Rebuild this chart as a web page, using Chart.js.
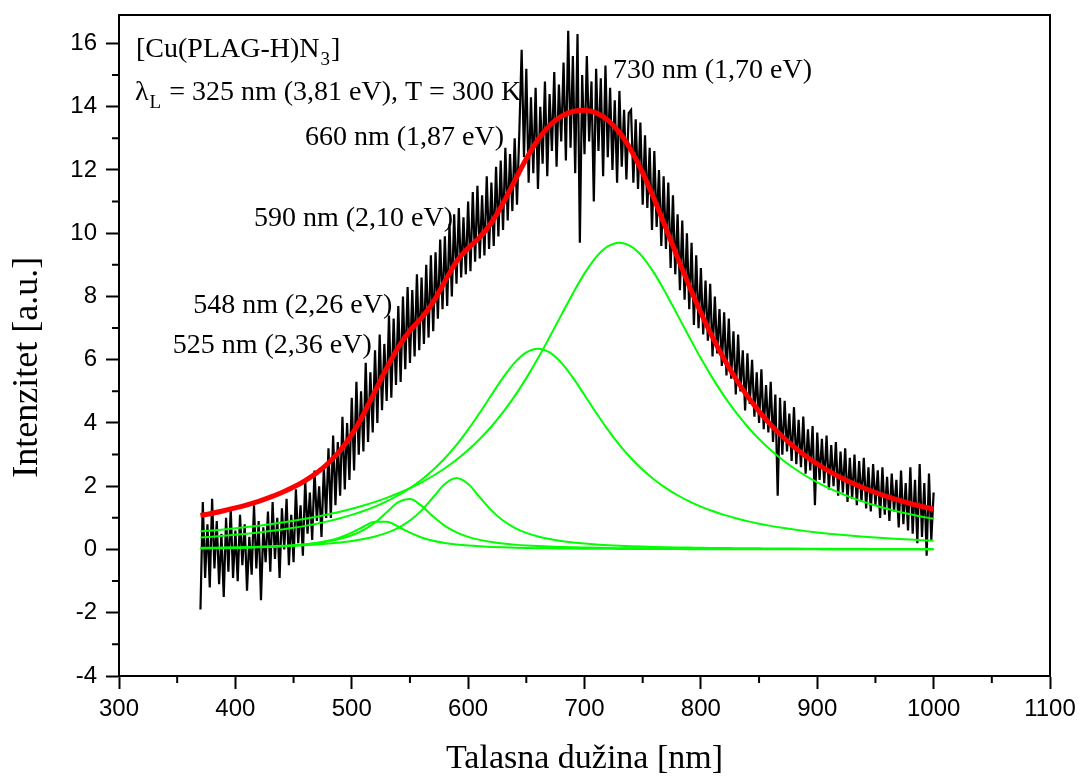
<!DOCTYPE html>
<html>
<head>
<meta charset="utf-8">
<script src="https://cdn.jsdelivr.net/npm/chart.js@4.4.1/dist/chart.umd.min.js"></script>
<style>
	html, body { margin: 0; padding: 0; background: #fff; }
	canvas { display: block; }
</style>
</head>
<body>
<canvas id="chart" width="1080" height="779"></canvas>
<script>
// fitted components, sampled every 10 nm from 370 to 1000 nm
const fitNm = Array.from({ length: 64 }, (_, i) => 370 + 10 * i);

const peak730 = [
	0.571, 0.602, 0.635, 0.672, 0.711, 0.754, 0.801, 0.852, 0.908, 0.970,
	1.038, 1.113, 1.196, 1.288, 1.391, 1.505, 1.634, 1.778, 1.940, 2.123,
	2.332, 2.568, 2.836, 3.143, 3.492, 3.889, 4.340, 4.850, 5.419, 6.044,
	6.717, 7.410, 8.097, 8.731, 9.247, 9.582, 9.700, 9.582, 9.247, 8.731,
	8.097, 7.410, 6.717, 6.044, 5.419, 4.850, 4.340, 3.889, 3.492, 3.143,
	2.836, 2.568, 2.332, 2.123, 1.940, 1.778, 1.634, 1.505, 1.391, 1.288,
	1.196, 1.113, 1.038, 0.970
];
const peak660 = [
	0.378, 0.404, 0.433, 0.464, 0.499, 0.538, 0.581, 0.630, 0.685, 0.747,
	0.817, 0.897, 0.989, 1.094, 1.216, 1.357, 1.522, 1.715, 1.941, 2.207,
	2.520, 2.885, 3.308, 3.790, 4.322, 4.884, 5.433, 5.907, 6.233, 6.350,
	6.233, 5.907, 5.433, 4.884, 4.322, 3.790, 3.308, 2.885, 2.520, 2.207,
	1.941, 1.715, 1.522, 1.357, 1.216, 1.094, 0.989, 0.897, 0.817, 0.747,
	0.685, 0.630, 0.581, 0.538, 0.499, 0.464, 0.433, 0.404, 0.378, 0.355,
	0.334, 0.314, 0.296, 0.280
];
const peak590 = [
	0.050, 0.054, 0.060, 0.066, 0.073, 0.082, 0.092, 0.104, 0.119, 0.137,
	0.159, 0.187, 0.222, 0.268, 0.329, 0.411, 0.525, 0.686, 0.915, 1.238,
	1.653, 2.070, 2.260, 2.070, 1.653, 1.238, 0.915, 0.686, 0.525, 0.411,
	0.329, 0.268, 0.222, 0.187, 0.159, 0.137, 0.119, 0.104, 0.092, 0.082,
	0.073, 0.066, 0.060, 0.054, 0.050, 0.046, 0.042, 0.039, 0.036, 0.033,
	0.031, 0.029, 0.027, 0.025, 0.024, 0.022, 0.021, 0.020, 0.019, 0.018,
	0.017, 0.016, 0.015, 0.015
];
const peak548 = [
	0.044, 0.049, 0.056, 0.063, 0.072, 0.083, 0.097, 0.115, 0.137, 0.167,
	0.206, 0.261, 0.338, 0.449, 0.614, 0.855, 1.176, 1.494, 1.593, 1.379,
	1.040, 0.748, 0.541, 0.400, 0.304, 0.237, 0.189, 0.154, 0.127, 0.107,
	0.091, 0.079, 0.068, 0.060, 0.053, 0.047, 0.042, 0.038, 0.035, 0.031,
	0.029, 0.026, 0.024, 0.022, 0.021, 0.019, 0.018, 0.017, 0.016, 0.015,
	0.014, 0.013, 0.012, 0.012, 0.011, 0.010, 0.010, 0.009, 0.009, 0.009,
	0.008, 0.008, 0.008, 0.007
];
const peak525 = [
	0.033, 0.037, 0.042, 0.049, 0.057, 0.068, 0.082, 0.100, 0.124, 0.158,
	0.206, 0.277, 0.381, 0.531, 0.720, 0.876, 0.876, 0.720, 0.531, 0.381,
	0.277, 0.206, 0.158, 0.124, 0.100, 0.082, 0.068, 0.057, 0.049, 0.042,
	0.037, 0.033, 0.029, 0.026, 0.023, 0.021, 0.019, 0.017, 0.016, 0.014,
	0.013, 0.012, 0.011, 0.011, 0.010, 0.009, 0.009, 0.008, 0.008, 0.007,
	0.007, 0.006, 0.006, 0.006, 0.005, 0.005, 0.005, 0.005, 0.005, 0.004,
	0.004, 0.004, 0.004, 0.004
];
// total fit (red)
const fitSum = [
	1.076, 1.146, 1.226, 1.314, 1.412, 1.525, 1.653, 1.801, 1.973, 2.179,
	2.426, 2.735, 3.126, 3.630, 4.270, 5.004, 5.733, 6.393, 6.920, 7.328,
	7.822, 8.477, 9.103, 9.527, 9.871, 10.330, 10.945, 11.654, 12.353, 12.954,
	13.407, 13.697, 13.849, 13.888, 13.804, 13.577, 13.188, 12.626, 11.910, 11.065,
	10.153, 9.229, 8.334, 7.488, 6.716, 6.018, 5.398, 4.850, 4.369, 3.945,
	3.573, 3.246, 2.958, 2.704, 2.479, 2.279, 2.103, 1.943, 1.802, 1.674,
	1.559, 1.455, 1.361, 1.276
];

// measured spectrum (black), every 2 nm from 370 to 1000 nm
const measured = [
	// 370-398
	-1.9, 1.5, -0.9, 0.8, -1.2, 1.6, -0.6, 0.9, -1.1, 0.5, -1.5, 1.0, -0.7, 1.3, -0.9,
	// 400-448
	0.6, -1.0, 1.1, -0.5, 0.8, -1.3, 0.4, -0.8, 1.4, -0.6, 0.9, -1.6, 0.7, -0.4, 1.2,
	-0.7, 1.5, -0.3, 1.0, -0.9, 1.3, 0.0, 1.6, -0.5, 1.1,
	// 450-478
	-0.4, 1.9, 0.2, 1.4, -0.2, 2.2, 0.5, 1.8, 0.3, 2.5, 0.9, 2.0, 0.4, 2.6, 1.0,
	// 480-498
	3.2, 1.0, 3.6, 1.4, 3.4, 1.7, 4.2, 1.9, 4.0, 2.2,
	// 500-518
	4.8, 2.5, 5.3, 3.0, 5.0, 3.1, 5.9, 3.4, 5.6, 3.7,
	// 520-538
	6.3, 4.0, 6.8, 4.4, 6.5, 4.7, 7.4, 4.8, 7.3, 5.2,
	// 540-558
	7.7, 5.3, 8.0, 5.7, 8.3, 5.9, 8.2, 6.1, 8.7, 6.3,
	// 560-578
	8.6, 6.5, 9.0, 6.7, 9.3, 6.9, 9.4, 7.3, 9.8, 7.6,
	// 580-598
	9.9, 7.7, 10.3, 8.0, 10.6, 8.4, 10.8, 8.6, 10.5, 8.7,
	// 600-618
	11.0, 8.8, 11.3, 9.1, 11.5, 9.2, 11.2, 9.3, 11.8, 9.5,
	// 620-644
	11.6, 9.6, 12.1, 9.9, 12.3, 10.1, 12.7, 10.4, 12.5, 10.7, 13.0, 10.9, 13.2,
	// 646-698
	15.8, 12.4, 15.2, 11.6, 14.3, 11.9, 14.6, 11.4, 14.0, 12.2, 14.8, 11.8, 14.4, 12.6,
	15.1, 12.1, 14.7, 12.9, 15.4, 12.3, 16.4, 12.7, 15.6, 11.9, 16.3, 9.7, 15.0,
	// 700-738
	12.5, 15.6, 12.9, 14.8, 11.0, 15.2, 12.6, 14.9, 11.8, 15.3,
	12.4, 14.6, 12.0, 14.2, 11.6, 14.5, 12.1, 13.9, 11.7, 13.8,
	// 740-798
	13.9, 11.6, 13.6, 11.4, 13.5, 10.9, 13.1, 10.8, 12.7, 10.1,
	12.6, 10.2, 12.0, 9.6, 11.8, 9.5, 11.6, 8.9, 11.2, 8.7,
	10.6, 8.2, 10.4, 7.9, 10.0, 7.6, 9.7, 7.1, 9.3, 7.0,
	// 800-1000
	8.9, 6.8, 8.5, 6.6, 8.4, 6.1, 8.0, 6.2, 7.6, 5.8,
	7.5, 5.5, 7.3, 5.4, 6.9, 4.9, 6.8, 5.0, 6.3, 4.4,
	6.2, 4.6, 6.0, 4.2, 5.6, 4.0, 5.7, 3.8, 5.2, 3.7,
	5.3, 3.4, 4.9, 1.7, 4.8, 3.0, 4.7, 3.1, 4.3, 2.8,
	4.5, 2.7, 4.1, 2.6, 4.2, 2.4, 3.8, 2.5, 3.9, 1.4,
	3.7, 2.2, 3.5, 2.1, 3.6, 1.9, 3.3, 2.0, 3.4, 1.7,
	3.1, 1.8, 3.2, 1.5, 2.9, 1.6, 3.0, 1.4, 2.8, 1.5,
	2.9, 1.3, 2.6, 1.2, 2.7, 1.4, 2.5, 1.0, 2.6, 1.1,
	2.3, 0.9, 2.4, 1.2, 2.2, 0.7, 2.5, 0.8, 2.1, 0.6,
	2.6, 0.5, 2.2, 0.2, 2.7, 0.4, 2.1, -0.2, 2.4, 0.3, 1.8
];
const measuredNm = measured.map((_, i) => 370 + 2 * i);

// axis minor ticks
const minorX = [350, 450, 550, 650, 750, 850, 950, 1050];
const minorY = [-3, -1, 1, 3, 5, 7, 9, 11, 13, 15];

const yTitle = "Intenzitet [a.u.]";

// annotation texts, pieces flagged 1 are subscripts
const noteTexts = [
	[["[Cu(PLAG-H)N", 0], ["3", 1], ["]", 0]],
	[["λ", 0], ["L", 1], [" = 325 nm (3,81 eV), T = 300 K", 0]],
	[["660 nm (1,87 eV)", 0]],
	[["730 nm (1,70 eV)", 0]],
	[["590 nm (2,10 eV)", 0]],
	[["548 nm (2,26 eV)", 0]],
	[["525 nm (2,36 eV)", 0]]
];
// anchor of each text (nm, intensity) at the left end of its baseline
const noteNm = [314.6, 313.7, 459.8, 724.5, 416.0, 363.8, 346.1];
const noteVal = [15.56, 14.21, 12.79, 14.90, 10.23, 7.47, 6.20];

const toPoints = (xs, ys) => xs.map((x, i) => ({ x: x, y: ys[i] }));

const greenLine = (values) => ({
	data: toPoints(fitNm, values),
	borderColor: "#00ff00",
	borderWidth: 2,
	pointRadius: 0,
	cubicInterpolationMode: "monotone",
	fill: false,
	order: 1,
});

const decorPlugin = {
	id: "decor",
	afterDraw(chart) {
		const { ctx, chartArea: a, scales } = chart;
		ctx.save();
		ctx.strokeStyle = "#000";
		ctx.lineWidth = 2;
		ctx.strokeRect(a.left, a.top, a.right - a.left, a.bottom - a.top);

		ctx.beginPath();
		minorX.forEach((v) => {
			const px = scales.x.getPixelForValue(v);
			ctx.moveTo(px, a.bottom);
			ctx.lineTo(px, a.bottom + 7);
		});
		minorY.forEach((v) => {
			const py = scales.y.getPixelForValue(v);
			ctx.moveTo(a.left, py);
			ctx.lineTo(a.left - 7, py);
		});
		ctx.stroke();

		ctx.fillStyle = "#000";

		// y axis title, a little below the middle of the plot as in the original
		ctx.save();
		ctx.translate(37, a.top + (a.bottom - a.top) * 0.533);
		ctx.rotate(-Math.PI / 2);
		ctx.font = "36px 'Liberation Serif'";
		ctx.textAlign = "center";
		ctx.textBaseline = "alphabetic";
		ctx.fillText(yTitle, 0, 0);
		ctx.restore();

		ctx.textBaseline = "alphabetic";
		ctx.textAlign = "left";
		noteTexts.forEach((parts, i) => {
			let px = scales.x.getPixelForValue(noteNm[i]);
			const py = scales.y.getPixelForValue(noteVal[i]);
			parts.forEach(([text, sub]) => {
				ctx.font = sub ? "19px 'Liberation Serif'" : "28px 'Liberation Serif'";
				ctx.fillText(text, px + (sub ? 1 : 0), py + (sub ? 8 : 0));
				px += ctx.measureText(text).width + (sub ? 2 : 0);
			});
		});
		ctx.restore();
	},
};

const tickFont = { family: "'Liberation Sans', Arial, sans-serif", size: 24 };
const titleFont = { family: "'Liberation Serif', 'Times New Roman', serif", size: 34 };

new Chart(document.getElementById("chart"), {
	type: "line",
	data: {
		datasets: [
			{
				data: toPoints(fitNm, fitSum),
				borderColor: "#ff0000",
				borderWidth: 5,
				pointRadius: 0,
				cubicInterpolationMode: "monotone",
				fill: false,
				order: 0,
			},
			greenLine(peak730),
			greenLine(peak660),
			greenLine(peak590),
			greenLine(peak548),
			greenLine(peak525),
			{
				data: toPoints(measuredNm, measured),
				borderColor: "#000",
				borderWidth: 2.2,
				pointRadius: 0,
				tension: 0,
				fill: false,
				order: 2,
			},
		],
	},
	options: {
		responsive: false,
		animation: false,
		devicePixelRatio: 1,
		layout: { padding: { top: 15, right: 30, left: 0, bottom: 0 } },
		plugins: { legend: { display: false }, tooltip: { enabled: false } },
		scales: {
			x: {
				type: "linear",
				min: 300,
				max: 1100,
				ticks: {
					stepSize: 100,
					includeBounds: false,
					color: "#000",
					font: tickFont,
					padding: 6,
					maxRotation: 0,
					callback: (v) => String(v),
				},
				grid: { drawOnChartArea: false, drawTicks: true, tickLength: 13, tickWidth: 2, tickColor: "#000" },
				border: { display: true, color: "#000", width: 2 },
				title: { display: true, text: "Talasna dužina [nm]", color: "#000", font: titleFont, padding: { top: 0, bottom: 0 } },
				afterFit: (s) => {
					s.height = 103;
					s.paddingLeft = 0;
					s.paddingRight = 0;
				},
			},
			y: {
				type: "linear",
				min: -4,
				max: 16.9,
				ticks: { stepSize: 2, includeBounds: false, color: "#000", font: tickFont, padding: 9, callback: (v) => String(v) },
				grid: { drawOnChartArea: false, drawTicks: true, tickLength: 13, tickWidth: 2, tickColor: "#000" },
				border: { display: true, color: "#000", width: 2 },
				title: { display: false },
				afterFit: (s) => {
					s.width = 119;
					s.paddingTop = 0;
					s.paddingBottom = 0;
				},
			},
		},
	},
	plugins: [decorPlugin],
});
</script>
</body>
</html>
